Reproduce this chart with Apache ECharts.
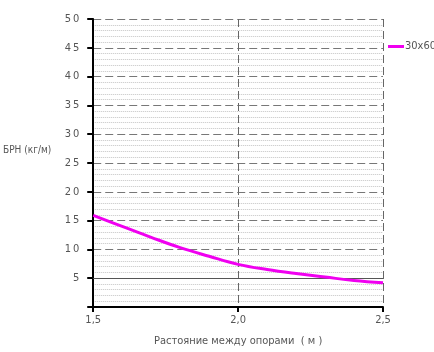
<!DOCTYPE html>
<html>
<head>
<meta charset="utf-8">
<script src="https://cdn.jsdelivr.net/npm/echarts@6/dist/echarts.min.js"></script>
<style>
  html, body { margin: 0; padding: 0; background: #fff; }
  #chart { width: 434px; height: 352px; }
</style>
</head>
<body>
<div id="chart"></div>
<script>
// расстояние между опорами, м
var spans = [1.5, 1.6, 1.7, 1.8, 1.9, 2.0, 2.1, 2.2, 2.3, 2.4, 2.5];
// БРН, кг/м для профиля 30x60
var load30x60 = [15.9, 14.0, 12.1, 10.3, 8.8, 7.4, 6.5, 5.8, 5.2, 4.6, 4.2];
var seriesName = '30x60';
var solidLevel = 5;

var FONT = '"Liberation Sans Narrow", "DejaVu Sans Condensed", sans-serif';
var TEXT = '#555';

var chart = echarts.init(document.getElementById('chart'));

var option = {
  animation: false,
  textStyle: { fontFamily: FONT },
  grid: { left: 92, right: 51, top: 19, bottom: 44 },
  legend: {
    left: 388,
    top: 41,
    padding: 0,
    data: [seriesName],
    icon: 'rect',
    itemWidth: 16,
    itemHeight: 3,
    itemGap: 2,
    textStyle: { color: TEXT, fontSize: 11, fontFamily: FONT, padding: [0, 0, 0, -4] }
  },
  xAxis: {
    type: 'value',
    min: 1.5,
    max: 2.5,
    interval: 0.5,
    name: 'Растояние между опорами  ( м )',
    nameLocation: 'middle',
    nameGap: 29,
    nameTextStyle: { color: TEXT, fontSize: 11, fontFamily: FONT },
    axisLine: { lineStyle: { color: '#000', width: 2 } },
    axisTick: { length: 5, lineStyle: { color: '#000', width: 2 } },
    axisLabel: {
      color: TEXT,
      fontSize: 11,
      margin: 8,
      formatter: function (v) { return v.toFixed(1).replace('.', ','); }
    },
    splitLine: {
      show: true,
      lineStyle: { color: '#666', width: 1, type: [8, 4] }
    }
  },
  yAxis: {
    type: 'value',
    min: 0,
    max: 50,
    interval: 5,
    name: 'БРН (кг/м)',
    nameLocation: 'middle',
    nameRotate: 0,
    nameGap: 42,
    nameTextStyle: {
      color: TEXT, fontSize: 10, fontFamily: FONT,
      align: 'right', verticalAlign: 'bottom', padding: [0, 0, 8, 0]
    },
    axisLine: { show: true, lineStyle: { color: '#000', width: 2 } },
    axisTick: { show: true, length: 6, lineStyle: { color: '#000', width: 2 } },
    axisLabel: {
      color: TEXT,
      fontSize: 11,
      margin: 14,
      formatter: function (v) {
        if (v === 0) return '';
        return String(v).split('').join('\u2009');
      }
    },
    splitLine: {
      show: true,
      lineStyle: { color: '#777', width: 1, type: [8, 4] }
    },
    minorTick: { show: false, splitNumber: 5 },
    minorSplitLine: {
      show: true,
      lineStyle: { color: '#c4c4c4', width: 1, type: 'dotted' }
    }
  },
  series: [
    {
      name: seriesName,
      type: 'line',
      data: spans.map(function (x, i) { return [x, load30x60[i]]; }),
      smooth: 0.4,
      showSymbol: false,
      lineStyle: { color: '#f000f0', width: 3 },
      itemStyle: { color: '#f000f0' },
      z: 5,
      markLine: {
        silent: true,
        symbol: 'none',
        label: { show: false },
        lineStyle: { color: '#555', width: 1, type: 'solid' },
        data: [{ yAxis: solidLevel }]
      }
    }
  ]
};

chart.setOption(option);
</script>
</body>
</html>
